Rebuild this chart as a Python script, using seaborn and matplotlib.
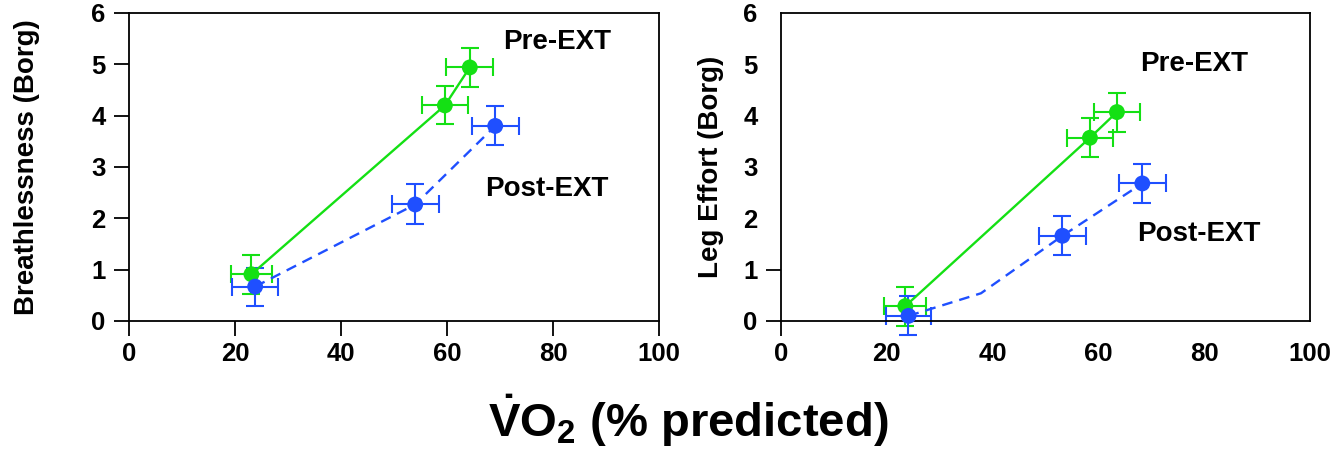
import matplotlib
matplotlib.use("Agg")
import matplotlib.pyplot as plt
import seaborn as sns
import pandas as pd
import numpy as np

# ---- data ----
x_ticks = [0, 20, 40, 60, 80, 100]
y_ticks = [0, 1, 2, 3, 4, 5, 6]

# Left panel: Breathlessness
b_pre_x = [23.1, 59.6, 64.3]
b_pre_y = [0.91, 4.20, 4.94]
b_pre_xerr = [3.8, 4.4, 4.4]
b_pre_yerr = [0.38, 0.37, 0.38]
b_post_x = [23.8, 54.0, 69.1]
b_post_y = [0.67, 2.27, 3.80]
b_post_xerr = [4.4, 4.4, 4.4]
b_post_yerr = [0.37, 0.39, 0.38]
b_post_line_x = [23.8, 54.0, 69.1]
b_post_line_y = [0.67, 2.27, 3.80]

# Right panel: Leg effort
l_pre_x = [23.5, 58.4, 63.5]
l_pre_y = [0.29, 3.57, 4.07]
l_pre_xerr = [4.0, 4.4, 4.4]
l_pre_yerr = [0.38, 0.38, 0.38]
l_post_x = [24.1, 53.2, 68.3]
l_post_y = [0.10, 1.66, 2.68]
l_post_xerr = [4.3, 4.4, 4.4]
l_post_yerr = [0.38, 0.38, 0.38]
l_post_line_x = [24.1, 37.8, 53.2, 68.3]
l_post_line_y = [0.10, 0.54, 1.66, 2.68]

GREEN = "#14e014"
BLUE = "#1f4fff"

sns.set_theme(style="white")
plt.rcParams['font.family'] = ['Liberation Sans', 'DejaVu Sans']
plt.rcParams['font.weight'] = 'bold'
plt.rcParams['text.color'] = 'black'
plt.rcParams['axes.labelcolor'] = 'black'
plt.rcParams['xtick.color'] = 'black'
plt.rcParams['ytick.color'] = 'black'
plt.rcParams['mathtext.fontset'] = 'custom'
plt.rcParams['mathtext.rm'] = 'Liberation Sans:bold'
plt.rcParams['mathtext.bf'] = 'Liberation Sans:bold'
plt.rcParams['mathtext.it'] = 'Liberation Sans:bold'

fig = plt.figure(figsize=(13.36, 4.49), dpi=100)
W, H = 1336, 449
ax1 = fig.add_axes([129 / W, 1 - 321 / H, (659 - 129) / W, (321 - 13) / H])
ax2 = fig.add_axes([781 / W, 1 - 321 / H, (1310 - 781) / W, (321 - 13) / H])


def panel(ax, pre, post, post_line, ylabel, pre_txt, post_txt, hide_ticks):
    px, py, pxe, pye = pre
    qx, qy, qxe, qye = post
    lx, ly = post_line
    # lines
    sns.lineplot(x=px, y=py, ax=ax, color=GREEN, lw=1.7, sort=False,
                 estimator=None, clip_on=False, zorder=3)
    sns.lineplot(x=lx, y=ly, ax=ax, color=BLUE, lw=1.7, sort=False,
                 estimator=None, clip_on=False, zorder=3,
                 linestyle=(0, (4.5, 3)))
    # error bars
    ax.errorbar(px, py, xerr=pxe, yerr=pye, fmt='none', ecolor=GREEN,
                elinewidth=1.5, capsize=6.5, capthick=1.5, clip_on=False, zorder=2)
    ax.errorbar(qx, qy, xerr=qxe, yerr=qye, fmt='none', ecolor=BLUE,
                elinewidth=1.5, capsize=6.5, capthick=1.5, clip_on=False, zorder=2)
    # markers
    sns.scatterplot(x=px, y=py, ax=ax, color=GREEN, s=130, edgecolor='none',
                    clip_on=False, zorder=4)
    sns.scatterplot(x=qx, y=qy, ax=ax, color=BLUE, s=130, edgecolor='none',
                    clip_on=False, zorder=4)

    ax.set_xlim(0, 100)
    ax.set_ylim(0, 6)
    ax.set_xticks(x_ticks)
    ax.set_yticks(y_ticks)
    ax.set_xticklabels([str(t) for t in x_ticks], fontsize=18.5, fontweight='bold')
    ax.set_yticklabels([str(t) for t in y_ticks], fontsize=18.5, fontweight='bold')
    ax.tick_params(axis='both', direction='out', length=11, width=1.3,
                   color='black', labelcolor='black', bottom=True, left=True)
    ax.tick_params(axis='x', pad=4)
    ax.tick_params(axis='y', pad=6)
    for s in ax.spines.values():
        s.set_visible(True)
        s.set_color('black')
        s.set_linewidth(1.3)
    ax.set_xlabel('')
    ax.set_ylabel(ylabel, fontsize=20, fontweight='bold', color='black')
    ax.text(pre_txt[0], pre_txt[1], 'Pre-EXT', fontsize=20, fontweight='bold',
            ha='left', va='center', color='black')
    ax.text(post_txt[0], post_txt[1], 'Post-EXT', fontsize=20, fontweight='bold',
            ha='left', va='center', color='black')
    if hide_ticks:
        for t in ax.yaxis.get_major_ticks()[2:]:
            t.tick1line.set_visible(False)
        for t in ax.xaxis.get_major_ticks()[1:]:
            t.tick1line.set_visible(False)
    if ax.get_legend():
        ax.get_legend().remove()


panel(ax1, (b_pre_x, b_pre_y, b_pre_xerr, b_pre_yerr),
      (b_post_x, b_post_y, b_post_xerr, b_post_yerr),
      (b_post_line_x, b_post_line_y),
      'Breathlessness (Borg)', (70.6, 5.43), (67.2, 2.57), False)
panel(ax2, (l_pre_x, l_pre_y, l_pre_xerr, l_pre_yerr),
      (l_post_x, l_post_y, l_post_xerr, l_post_yerr),
      (l_post_line_x, l_post_line_y),
      'Leg Effort (Borg)', (67.9, 5.0), (67.3, 1.70), True)

ax1.yaxis.set_label_coords(-0.168, 0.5)
ax2.yaxis.set_label_coords(-0.108, 0.5)

fig.text(688 / W, 1 - 421 / H, r'$\dot{\mathrm{V}}\mathrm{O}_2$ (% predicted)',
         fontsize=34, fontweight='bold', ha='center', va='center', color='black')

fig.savefig('out.png', dpi=100)
